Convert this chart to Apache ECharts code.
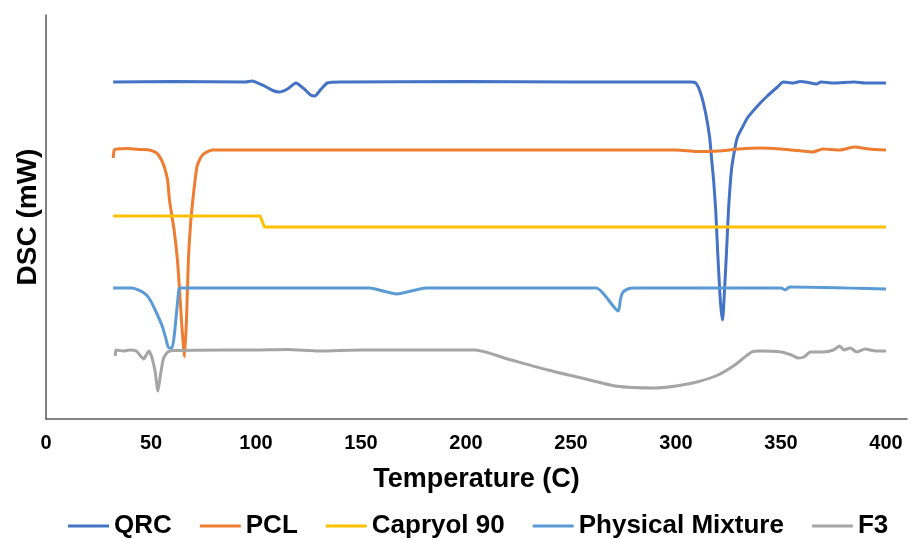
<!DOCTYPE html>
<html>
<head>
<meta charset="utf-8">
<script src="https://cdn.jsdelivr.net/npm/echarts@6/dist/echarts.min.js"></script>
<style>
  html, body { margin: 0; padding: 0; background: #fff; }
  #chart { width: 910px; height: 540px; }
</style>
</head>
<body>
<div id="chart"></div>
<script>
// [temperature (C), DSC signal (relative, offset per sample)]
const seriesNames = ['QRC', 'PCL', 'Capryol 90', 'Physical Mixture', 'F3']

const qrcData = [
  [32, 337], [60, 337.5], [95, 337], [98, 338], [104, 333], [108, 328.5], [111, 327],
  [115, 330], [119, 336], [123, 330], [126, 324], [128, 323], [131, 330], [134, 336],
  [140, 337], [200, 337.5], [250, 337], [300, 337], [307, 337], [309.4, 336],
  [311.7, 326], [314.1, 306], [316, 282], [317, 259], [317.9, 239], [318.9, 209],
  [319.8, 169], [320.8, 129], [321.5, 109], [322.2, 99], [323.1, 129], [324.1, 169],
  [325, 209], [326.4, 249], [327.9, 269], [329.3, 282], [331.7, 292], [334, 301],
  [338.8, 313], [343.5, 323], [348.3, 332], [351.1, 337], [356, 336], [359, 337.5],
  [363, 336.5], [367, 335], [369, 337], [375, 336], [385, 337], [390, 336], [400, 336],
]

const pclData = [
  [32, 261], [32.5, 269], [33.7, 270], [38.9, 270.5], [45, 269.5], [49.3, 269],
  [52.7, 266], [55, 259], [56.5, 251], [57.9, 239], [58.8, 219], [61, 189],
  [62.6, 159], [63.6, 129], [64.5, 99], [65.2, 79], [65.9, 62], [66.9, 99],
  [67.8, 159], [69, 199], [71, 239], [72.1, 254], [74.5, 264], [79.2, 269],
  [150, 269], [250, 269], [300, 269], [310, 267.5], [320, 268], [330, 270],
  [340, 271], [350, 270], [360, 268], [365, 267], [370, 270], [378, 269],
  [385, 272], [392, 270], [400, 269],
]

const capryolData = [
  [32, 203], [102, 203], [104, 192], [400, 192],
]

const mixtureData = [
  [32, 131], [41, 131], [46, 127], [49, 121], [52, 109], [55.5, 92], [57, 81],
  [58.5, 71], [60, 71], [63.3, 130], [64, 131], [154, 131], [167, 125],
  [181, 131], [262, 131], [272.5, 108], [273.5, 119], [274.5, 126], [277, 130],
  [280, 131], [350, 131], [352, 129], [354, 132], [400, 130],
]

const f3Data = [
  [33, 63], [33.3, 69], [37, 68], [40, 69], [43, 68], [45, 63], [46.5, 60],
  [48, 65], [49, 68], [50.5, 61], [52, 47], [53.3, 28], [54.5, 44], [56, 61],
  [58, 67], [61, 68.5], [100, 69], [115, 69.5], [130, 68], [150, 69],
  [204.5, 69], [220, 60], [239, 49], [255, 41], [271, 33], [290, 31],
  [300, 33], [310, 37], [320, 44], [328, 54], [336, 67], [340, 68], [350, 67],
  [355, 64], [358, 61], [361, 62], [364, 67], [370, 67], [375, 69], [378, 73],
  [380, 69], [383, 71], [386, 67], [390, 70], [395, 68], [400, 68],
]

const xTicks = [0, 50, 100, 150, 200, 250, 300, 350, 400]

const colors = ['#4472C4', '#ED7D31', '#FFC000', '#5B9BD5', '#A5A5A5']
const allData = [qrcData, pclData, capryolData, mixtureData, f3Data]
const font = '"Liberation Sans", Arial, sans-serif'

const chart = echarts.init(document.getElementById('chart'), null, { renderer: 'canvas' })

chart.setOption({
  animation: false,
  color: colors,
  textStyle: { fontFamily: font },
  grid: { left: 46, top: 15, right: 0, bottom: 121 },
  legend: {
    data: seriesNames,
    left: 63,
    top: 508,
    icon: 'rect',
    itemWidth: 41,
    itemHeight: 3,
    itemGap: 28,
    textStyle: { fontFamily: font, fontSize: 26, fontWeight: 'bold', color: '#000' },
  },
  xAxis: {
    type: 'value',
    min: 0,
    max: 410,
    interval: 50,
    name: 'Temperature (C)',
    nameLocation: 'middle',
    nameGap: 47,
    nameTextStyle: { fontFamily: font, fontSize: 27, fontWeight: 'bold', color: '#000' },
    axisLine: { show: true, lineStyle: { color: '#595959', width: 1.5 } },
    axisTick: { show: false },
    splitLine: { show: false },
    axisLabel: {
      margin: 14,
      fontSize: 20,
      fontWeight: 'bold',
      color: '#000',
      fontFamily: font,
      formatter: (v) => (xTicks.includes(v) ? String(v) : ''),
    },
  },
  yAxis: {
    type: 'value',
    min: 0,
    max: 404,
    name: 'DSC (mW)',
    nameLocation: 'middle',
    nameGap: 4,
    nameTextStyle: { fontFamily: font, fontSize: 28, fontWeight: 'bold', color: '#000' },
    axisLine: { show: true, lineStyle: { color: '#595959', width: 1.5 } },
    axisTick: { show: false },
    axisLabel: { show: false },
    splitLine: { show: false },
  },
  series: seriesNames.map((name, i) => ({
    name,
    type: 'line',
    data: allData[i],
    showSymbol: false,
    smooth: i === 2 ? false : 0.2,
    lineStyle: { width: 3, color: colors[i] },
  })),
})
</script>
</body>
</html>
